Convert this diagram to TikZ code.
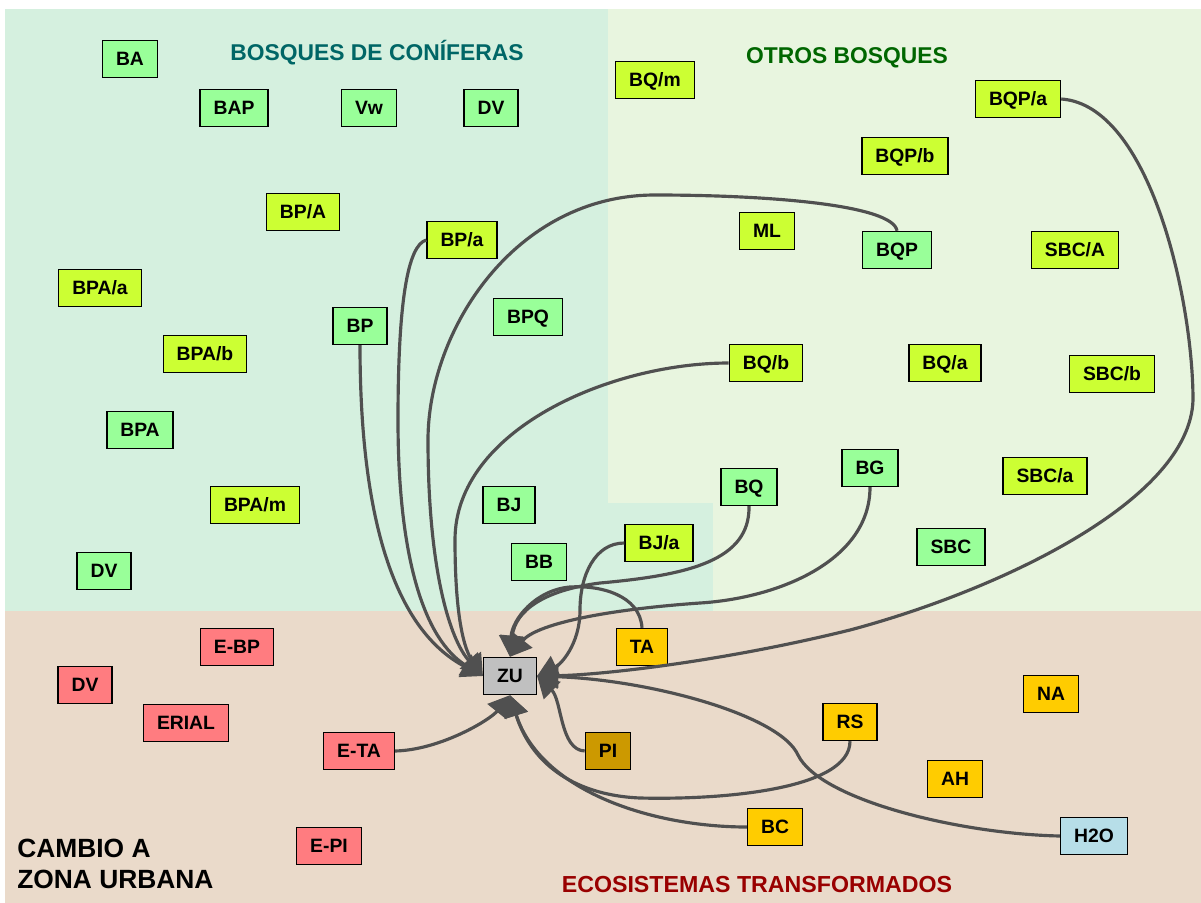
\documentclass[tikz,border=0pt]{standalone}
\usepackage{fontspec}
\setmainfont{Liberation Sans}
\usetikzlibrary{arrows.meta}
\definecolor{conifbg}{RGB}{213,240,223}
\definecolor{otrosbg}{RGB}{232,245,223}
\definecolor{urbanbg}{RGB}{234,218,202}
\definecolor{conifgreen}{RGB}{153,255,153}
\definecolor{limegreen}{RGB}{204,255,51}
\definecolor{erialred}{RGB}{255,124,128}
\definecolor{transorange}{RGB}{255,204,0}
\definecolor{pigold}{RGB}{204,153,0}
\definecolor{zugray}{RGB}{192,192,192}
\definecolor{waterblue}{RGB}{183,222,232}
\definecolor{flowgray}{RGB}{80,80,80}
\definecolor{coniftitle}{RGB}{0,102,102}
\definecolor{otrostitle}{RGB}{0,102,0}
\definecolor{ecotitle}{RGB}{153,0,0}

\begin{document}
\begin{tikzpicture}[x=0.02cm, y=-0.02cm,
    box/.style={draw=black, line width=0.8pt, font=\fontsize{11}{13}\selectfont\bfseries,
      minimum height=0.74cm, inner xsep=0.27cm, inner ysep=0pt, text height=7.9pt, text depth=0pt},
    conif/.style={box, fill=conifgreen},
    lime/.style={box, fill=limegreen},
    erial/.style={box, fill=erialred},
    trans/.style={box, fill=transorange},
    flow/.style={draw=flowgray, line width=1.8pt, -{Triangle[length=12pt,width=13.5pt]}},
    zonetitle/.style={font=\fontsize{13}{15}\selectfont\bfseries, anchor=base, inner sep=0pt},
    urbantitle/.style={font=\fontsize{15}{18}\selectfont\bfseries, anchor=base west, inner sep=0pt}]
  \useasboundingbox (0,0) rectangle (1201,903);
  \fill[white] (0,0) rectangle (1201,903);
  \fill[conifbg] (5,9) rectangle (608,611);
  \fill[conifbg] (608,503) rectangle (713,611);
  \fill[otrosbg] (608,9) rectangle (1201,503);
  \fill[otrosbg] (713,503) rectangle (1201,611);
  \fill[urbanbg] (5,611) rectangle (1201,903);

  \node[zonetitle, text=coniftitle] (tConif) at (377,60) {BOSQUES DE CONÍFERAS};
  \node[zonetitle, text=otrostitle] (tOtros) at (847,63) {OTROS BOSQUES};
  \node[zonetitle, text=ecotitle, font=\fontsize{13.2}{15}\selectfont\bfseries] (tEco) at (757,892) {ECOSISTEMAS TRANSFORMADOS};
  \node[urbantitle] (tCambio) at (17,857) {CAMBIO A};
  \node[urbantitle] (tZona) at (17,888) {ZONA URBANA};

  \node[conif] (BA) at (130,59) {BA};
  \node[conif] (BAP) at (234,108) {BAP};
  \node[conif] (Vw) at (369,108) {Vw};
  \node[conif] (DVc) at (491,108) {DV};
  \node[lime] (BP-A) at (303,212) {BP/A};
  \node[lime] (BP-a) at (462,240) {BP/a};
  \node[lime] (BPA-a) at (100,288) {BPA/a};
  \node[conif] (BP) at (360,326) {BP};
  \node[conif] (BPQ) at (528,317) {BPQ};
  \node[lime] (BPA-b) at (205,354) {BPA/b};
  \node[conif] (BPA) at (140,430) {BPA};
  \node[lime] (BPA-m) at (255,505) {BPA/m};
  \node[conif] (BJ) at (509,505) {BJ};
  \node[conif] (BB) at (539,562) {BB};
  \node[conif] (DVl) at (104,571) {DV};

  \node[lime] (BQ-m) at (655,80) {BQ/m};
  \node[lime] (BQP-a) at (1018,99) {BQP/a};
  \node[lime] (BQP-b) at (905,156) {BQP/b};
  \node[lime] (ML) at (767,231) {ML};
  \node[conif] (BQP) at (897,250) {BQP};
  \node[lime] (SBC-A) at (1075,250) {SBC/A};
  \node[lime] (BQ-b) at (766,363) {BQ/b};
  \node[lime] (BQ-a) at (945,363) {BQ/a};
  \node[lime] (SBC-b) at (1112,374) {SBC/b};
  \node[conif] (BG) at (870,468) {BG};
  \node[lime] (SBC-a) at (1045,476) {SBC/a};
  \node[conif] (BQ) at (749,487) {BQ};
  \node[lime] (BJ-a) at (659,543) {BJ/a};
  \node[conif] (SBC) at (951,547) {SBC};

  \node[box, fill=zugray] (ZU) at (510,676) {ZU};
  \node[trans] (TA) at (642,647) {TA};
  \node[erial] (E-BP) at (237,647) {E-BP};
  \node[erial] (DVe) at (85,685) {DV};
  \node[erial] (ERIAL) at (186,723) {ERIAL};
  \node[erial] (E-TA) at (359,751) {E-TA};
  \node[erial] (E-PI) at (329,846) {E-PI};
  \node[box, fill=pigold] (PI) at (608,751) {PI};
  \node[trans] (RS) at (850,722) {RS};
  \node[trans] (NA) at (1051,694) {NA};
  \node[trans] (AH) at (955,779) {AH};
  \node[trans] (BC) at (775,827) {BC};
  \node[box, fill=waterblue] (H2O) at (1094,836) {H2O};

  \draw[flow] (BP.south) .. controls (360,520) and (395,630) .. (ZU.west);
  \draw[flow] (BP-a.west) .. controls (408,245) and (398,300) .. (398,420)
    .. controls (398,560) and (425,640) .. (ZU.west);
  \draw[flow] (BQP.north) .. controls (893,205) and (770,195) .. (655,195)
    .. controls (515,195) and (428,330) .. (428,440)
    .. controls (428,570) and (450,640) .. (ZU.west);
  \draw[flow] (BQ-b.west) .. controls (610,363) and (455,430) .. (455,540)
    .. controls (455,620) and (465,650) .. (ZU.west);

  \draw[flow] (BQ.south) .. controls (750,560) and (690,575) .. (600,583)
    .. controls (545,590) and (515,610) .. (ZU.north);
  \draw[flow] (TA.north) .. controls (640,595) and (600,585) .. (570,587)
    .. controls (535,590) and (512,620) .. (ZU.north);
  \draw[flow] (BG.south) .. controls (870,560) and (780,598) .. (700,603)
    .. controls (600,610) and (535,625) .. (ZU.north);

  \draw[flow] (BJ-a.west) .. controls (595,543) and (580,575) .. (580,610)
    .. controls (580,645) and (560,665) .. (ZU.east);
  \draw[flow] (BQP-a.east) .. controls (1150,105) and (1193,300) .. (1193,400)
    .. controls (1190,500) and (1000,590) .. (850,630)
    .. controls (720,662) and (600,675) .. (ZU.east);
  \draw[flow] (H2O.west) .. controls (960,834) and (820,800) .. (798,755)
    .. controls (780,715) and (650,680) .. (ZU.east);
  \draw[flow] (PI.west) .. controls (560,750) and (562,700) .. (ZU.east);

  \draw[flow] (E-TA.east) .. controls (440,750) and (490,720) .. (ZU.south);
  \draw[flow] (RS.south) .. controls (850,790) and (720,800) .. (640,798)
    .. controls (570,795) and (530,760) .. (ZU.south);
  \draw[flow] (BC.west) .. controls (650,827) and (540,790) .. (ZU.south);
\end{tikzpicture}
\end{document}
